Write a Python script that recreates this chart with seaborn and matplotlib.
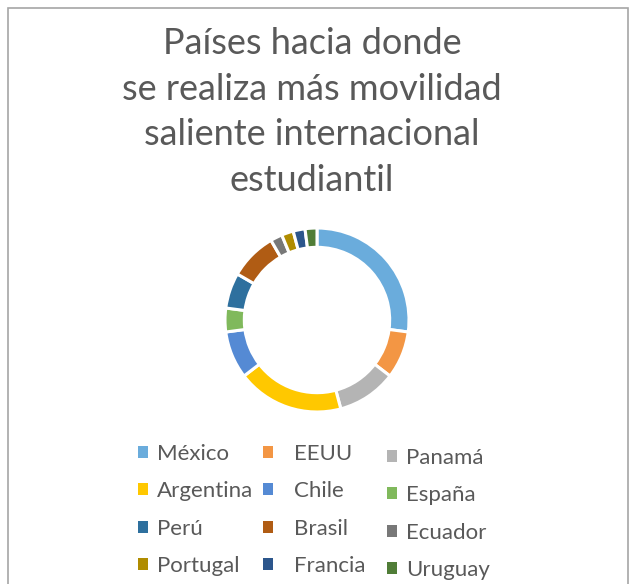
import matplotlib
matplotlib.use("Agg")
import matplotlib.pyplot as plt
import matplotlib.patches as mpatches
import seaborn as sns

sns.set_theme(style="white")
plt.rcParams['font.family'] = ['Lato', 'DejaVu Sans']

countries = ["México", "EEUU", "Panamá", "Argentina", "Chile", "España",
             "Perú", "Brasil", "Ecuador", "Portugal", "Francia", "Uruguay"]
values = [13, 4, 5, 9, 4, 2, 3, 4, 1, 1, 1, 1]
colors = ["#6AACDC", "#F39644", "#B4B4B4", "#FFC800", "#558AD4", "#80B95C",
          "#2E709E", "#B05C14", "#787878", "#B08C00", "#2C568C", "#507D37"]
title = "Países hacia donde\nse realiza más movilidad\nsaliente internacional\nestudiantil"

W, H = 634, 584
fig = plt.figure(figsize=(W / 100, H / 100), dpi=100)
fig.patch.set_facecolor("white")

# border
fig.patches.append(mpatches.Rectangle((8 / W, -0.05), 620 / W, 1 - 8 / H + 0.05,
                                      transform=fig.transFigure, fill=False,
                                      edgecolor="#A6A6A6", linewidth=1.2))

cx, cy, r = 317, 320, 92
ax = fig.add_axes([(cx - r) / W, (H - cy - r) / H, 2 * r / W, 2 * r / H])
wedges, _ = ax.pie(values, colors=colors, startangle=90, counterclock=False,
                   radius=1.0,
                   wedgeprops=dict(width=0.21, edgecolor="white", linewidth=2.2))
ax.set_xlim(-1, 1)
ax.set_ylim(-1, 1)
ax.set_aspect("equal")
ax.axis("off")

fig.text(312 / W, 1 - 27 / H, title, ha="center", va="top", fontsize=26,
         color="#595959", linespacing=1.47)

# legend: three columns, row-major order as in the reference
handles = [mpatches.Patch(facecolor=c, edgecolor="none") for c in colors]
col_x = [138, 263, 387]
col_y = [444, 444, 448]
col_pad = [0.4, 0.95, 0.4]
for j in range(3):
    idx = [j, j + 3, j + 6, j + 9]
    leg = fig.legend([handles[i] for i in idx], [countries[i] for i in idx],
                     ncol=1, loc="upper left",
                     bbox_to_anchor=(col_x[j] / W, 1 - col_y[j] / H),
                     frameon=False, fontsize=16, handlelength=0.45,
                     handleheight=0.45, handletextpad=col_pad[j],
                     borderpad=0, borderaxespad=0, labelspacing=0.78)
    for t in leg.get_texts():
        t.set_color("#595959")

fig.savefig("out.png", dpi=100, facecolor="white")
